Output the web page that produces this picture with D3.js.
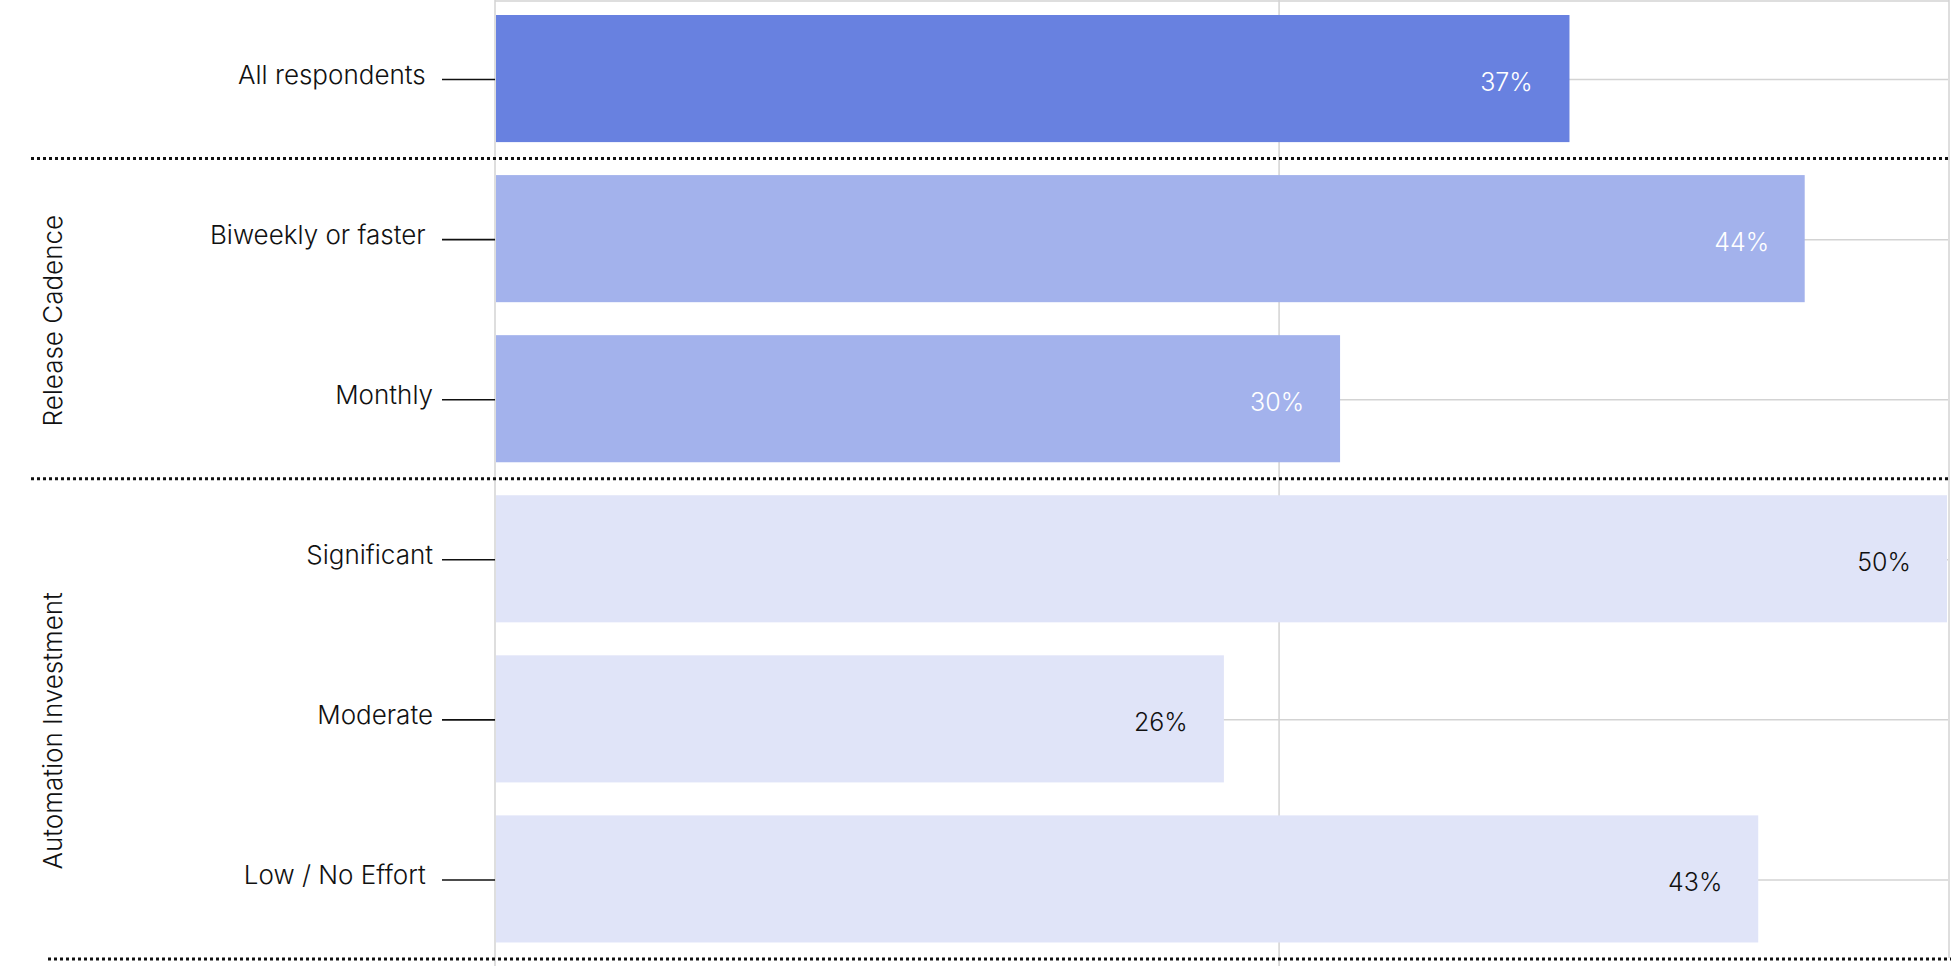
<!DOCTYPE html>
<html>
<head>
<meta charset="utf-8">
<script src="https://cdn.jsdelivr.net/npm/d3@7"></script>
<style>
  html, body { margin: 0; padding: 0; background: #ffffff; }
  svg { display: block; font-family: Inter, "Noto Sans", sans-serif; }
  .cat { white-space: pre; }
</style>
</head>
<body>
<svg id="chart" width="1951" height="966"></svg>
<script>
// ---- data ----
const categories = ["All respondents", "Biweekly or faster", "Monthly", "Significant", "Moderate", "Low / No Effort"];
const categoryLabels = ["All respondents ", "Biweekly or faster ", "Monthly", "Significant", "Moderate", "Low / No Effort "];
const groups = ["", "Release Cadence", "Release Cadence", "Automation Investment", "Automation Investment", "Automation Investment"];
const values = [37.0, 45.1, 29.1, 50.0, 25.1, 43.5];
const valueLabels = ["37%", "44%", "30%", "50%", "26%", "43%"];
const groupNames = ["Release Cadence", "Automation Investment"];
const gridValues = [0, 27];

// ---- layout ----
const W = 1951, H = 966;
const svg = d3.select("#chart");
const x = d3.scaleLinear().domain([0, 50]).range([495, 1947]);
const y = d3.scaleBand().domain(categories).range([-1, 958.5]).paddingInner(0.206).paddingOuter(0.1);
const colorOf = d => d === "" ? "#6881e0" : (d === "Release Cadence" ? "#a3b2ec" : "#e0e4f8");
const gridColor = "#d3d3d3";
const mid = d => y(d) + y.bandwidth() / 2;

// frame (top & right border)
svg.append("line").attr("x1", x(0)).attr("x2", 1949).attr("y1", 1).attr("y2", 1)
  .attr("stroke", gridColor).attr("stroke-width", 1.5);
svg.append("line").attr("x1", 1949).attr("x2", 1949).attr("y1", 0).attr("y2", 958)
  .attr("stroke", gridColor).attr("stroke-width", 1.5);

// vertical gridlines
svg.selectAll("line.vgrid").data(gridValues).join("line")
  .attr("class", "vgrid")
  .attr("x1", d => x(d)).attr("x2", d => x(d))
  .attr("y1", 0).attr("y2", H)
  .attr("stroke", gridColor).attr("stroke-width", 1.5);

// horizontal gridlines at bar centers
svg.selectAll("line.hgrid").data(categories).join("line")
  .attr("class", "hgrid")
  .attr("x1", x(0)).attr("x2", 1948)
  .attr("y1", d => mid(d) + 1).attr("y2", d => mid(d) + 1)
  .attr("stroke", gridColor).attr("stroke-width", 1.5);

// bars
svg.selectAll("rect.bar").data(categories).join("rect")
  .attr("class", "bar")
  .attr("x", x(0) + 1)
  .attr("y", d => y(d))
  .attr("width", (d, i) => x(values[i]) - x(0) - 1)
  .attr("height", y.bandwidth())
  .attr("fill", (d, i) => colorOf(groups[i]));

// value labels
svg.selectAll("text.val").data(categories).join("text")
  .attr("class", "val")
  .attr("x", (d, i) => x(values[i]) - 63)
  .attr("y", d => mid(d) + 12.5)
  .attr("text-anchor", "middle")
  .attr("font-size", 25)
  .attr("font-weight", 300)
  .attr("fill", (d, i) => groups[i] === "Automation Investment" ? "#111111" : "#ffffff")
  .text((d, i) => valueLabels[i]);

// category tick lines
svg.selectAll("line.tick").data(categories).join("line")
  .attr("class", "tick")
  .attr("x1", 442).attr("x2", x(0))
  .attr("y1", d => mid(d) + 1).attr("y2", d => mid(d) + 1)
  .attr("stroke", "#111111").attr("stroke-width", 1.6);

// category labels
svg.selectAll("text.cat").data(categories).join("text")
  .attr("class", "cat")
  .attr("x", 433)
  .attr("y", d => mid(d) + 5)
  .attr("text-anchor", "end")
  .attr("font-size", 26)
  .attr("font-weight", 300)
  .attr("fill", "#111111")
  .text((d, i) => categoryLabels[i]);

// group separators (dotted)
const sepY = [];
groupNames.forEach(g => {
  const first = categories[groups.indexOf(g)];
  sepY.push({ y: y(first) - y.step() * y.paddingInner() / 2, x0: 31 });
});
const lastCat = categories[categories.length - 1];
sepY.push({ y: y(lastCat) + y.bandwidth() + y.step() * y.paddingInner() / 2, x0: 48 });
svg.selectAll("line.sep").data(sepY).join("line")
  .attr("class", "sep")
  .attr("x1", d => d.x0).attr("x2", W)
  .attr("y1", d => d.y).attr("y2", d => d.y)
  .attr("stroke", "#111111").attr("stroke-width", 3)
  .attr("stroke-dasharray", "3,3");

// group labels (rotated)
groupNames.forEach(g => {
  const members = categories.filter((c, i) => groups[i] === g);
  const top = y(members[0]);
  const bottom = y(members[members.length - 1]) + y.bandwidth();
  const cy = (top + bottom) / 2 + (members.length - 1) * 10 - 8;
  svg.append("text")
    .attr("transform", `translate(62,${cy}) rotate(-90)`)
    .attr("text-anchor", "middle")
    .attr("font-size", 26)
    .attr("font-weight", 300)
    .attr("fill", "#111111")
    .text(g);
});
</script>
</body>
</html>
